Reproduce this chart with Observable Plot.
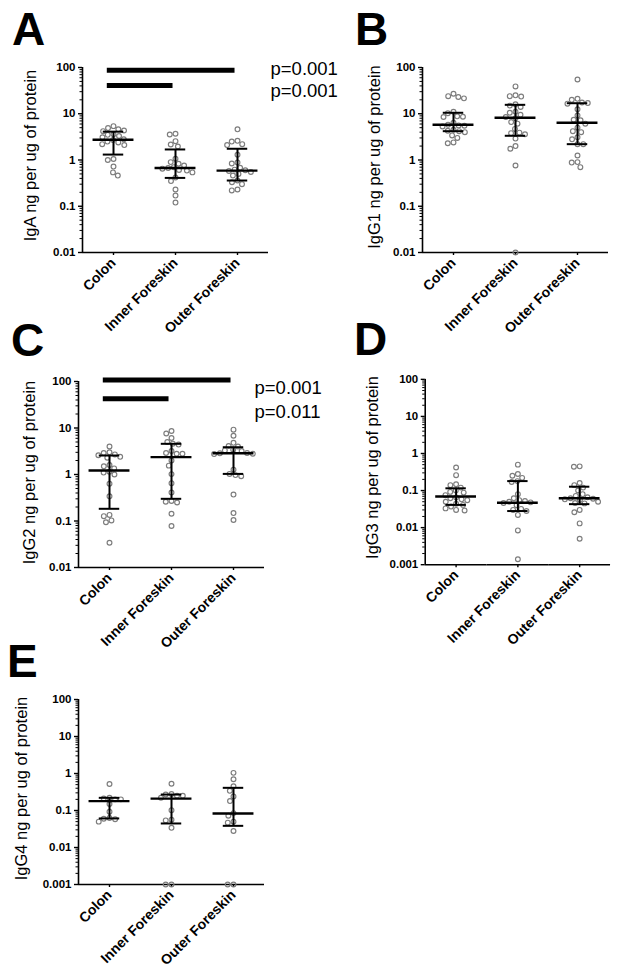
<!DOCTYPE html>
<html>
<head>
<meta charset="utf-8">
<script src="https://cdn.jsdelivr.net/npm/d3@7"></script>
<script src="https://cdn.jsdelivr.net/npm/@observablehq/plot@0.6"></script>
<style>
  html, body { margin: 0; padding: 0; background: white; }
  body { width: 624px; height: 976px; overflow: hidden; position: relative; font-family: "Liberation Sans", Arial, sans-serif; }
  .panel { position: absolute; }
  .letter { position: absolute; font-family: "Liberation Sans", Arial, sans-serif; font-weight: bold; font-size: 46px; line-height: 46px; color: black; }
  g[aria-label="y-axis tick label"], g[aria-label="fx-axis tick label"] { font-weight: bold; }
</style>
</head>
<body>
<script>
// ---------- data ----------
const categories = ["Colon", "Inner Foreskin", "Outer Foreskin"];

const ticks4 = [0.01, 0.1, 1, 10, 100];
const tickLabels4 = ["0.01", "0.1", "1", "10", "100"];
const ticks5 = [0.001, 0.01, 0.1, 1, 10, 100];
const tickLabels5 = ["0.001", "0.01", "0.1", "1", "10", "100"];

// Panel A: IgA
const igaColon = [5.4, 4.9, 4.6, 4.35, 4.2, 3.6, 3.5, 3.3, 3.1, 2.8, 2.7, 2.5, 2.4, 2.2, 2.1, 1.05, 1.0, 0.72, 0.54, 0.46];
const igaInner = [3.7, 3.56, 2.55, 2.16, 1.96, 1.06, 0.9, 0.83, 0.76, 0.7, 0.67, 0.65, 0.61, 0.59, 0.54, 0.42, 0.35, 0.23, 0.17, 0.12];
const igaOuter = [4.6, 2.6, 2.5, 2.2, 2.1, 1.3, 0.88, 0.84, 0.68, 0.62, 0.6, 0.58, 0.55, 0.5, 0.46, 0.36, 0.33, 0.3, 0.23, 0.22];
const igaMedian = [2.75, 0.67, 0.59];
const igaQ1 = [1.31, 0.41, 0.36];
const igaQ3 = [4.1, 1.69, 1.75];
const igaSigLevel = [87, 41];
const igaSigTo = [2, 1];
const igaPValues = ["p=0.001", "p=0.001"];

// Panel B: IgG1
const igg1Colon = [27, 24, 23, 21.5, 11, 10.3, 8.8, 8.6, 8.5, 6.4, 5.8, 5.6, 5.5, 5.3, 4.5, 4.3, 4.2, 4.0, 3.4, 3.0, 2.4, 2.3];
const igg1Inner = [39, 25, 24, 23.5, 16, 15, 14, 11, 10.5, 9.5, 8.5, 8, 6.6, 6.1, 4.7, 3.9, 3.8, 3.6, 2.9, 2.0, 1.75, 0.76, 0.01];
const igg1Outer = [55, 21, 20, 17.5, 17, 16.5, 12.5, 9.2, 7.4, 7.2, 6.1, 5.0, 4.2, 4.0, 3.1, 2.8, 2.2, 2.2, 1.25, 0.9, 0.88, 0.7];
const igg1Median = [5.8, 8.2, 6.4];
const igg1Q1 = [4.2, 3.34, 2.2];
const igg1Q3 = [10.5, 15.6, 16.9];

// Panel C: IgG2
const igg2Colon = [4.0, 3.0, 2.9, 2.7, 2.6, 2.4, 2.3, 1.6, 1.5, 1.35, 1.15, 1.1, 1.0, 0.63, 0.34, 0.135, 0.127, 0.103, 0.094, 0.034];
const igg2Inner = [8.6, 7.6, 6.1, 5.0, 4.6, 4.4, 3.2, 2.9, 2.8, 2.8, 2.0, 1.55, 1.02, 0.65, 0.41, 0.27, 0.26, 0.25, 0.143, 0.078];
const igg2Outer = [9.2, 6.8, 4.8, 4.1, 4.0, 3.4, 3.3, 3.2, 2.9, 2.85, 2.8, 2.75, 1.27, 1.03, 0.97, 0.92, 0.37, 0.148, 0.105];
const igg2Median = [1.22, 2.36, 2.87];
const igg2Q1 = [0.183, 0.3, 1.03];
const igg2Q3 = [2.56, 4.57, 3.86];
const igg2SigLevel = [108, 42.5];
const igg2SigTo = [2, 1];
const igg2PValues = ["p=0.001", "p=0.011"];

// Panel D: IgG3
const igg3Colon = [0.42, 0.26, 0.148, 0.14, 0.12, 0.1, 0.092, 0.088, 0.075, 0.065, 0.062, 0.058, 0.055, 0.05, 0.044, 0.041, 0.037, 0.033, 0.030, 0.029];
const igg3Inner = [0.5, 0.28, 0.25, 0.22, 0.18, 0.17, 0.08, 0.062, 0.055, 0.052, 0.05, 0.048, 0.046, 0.04, 0.032, 0.03, 0.028, 0.022, 0.0084, 0.0014];
const igg3Outer = [0.45, 0.44, 0.16, 0.14, 0.12, 0.1, 0.08, 0.072, 0.066, 0.062, 0.06, 0.058, 0.056, 0.05, 0.046, 0.045, 0.03, 0.026, 0.013, 0.005];
const igg3Median = [0.069, 0.047, 0.062];
const igg3Q1 = [0.041, 0.028, 0.043];
const igg3Q3 = [0.115, 0.18, 0.127];

// Panel E: IgG4
const igg4Colon = [0.52, 0.22, 0.21, 0.2, 0.2, 0.15, 0.092, 0.063, 0.06, 0.058, 0.05];
const igg4Inner = [0.53, 0.28, 0.27, 0.25, 0.25, 0.22, 0.102, 0.056, 0.054, 0.034, 0.001, 0.001];
const igg4Outer = [1.04, 0.7, 0.45, 0.34, 0.24, 0.18, 0.085, 0.072, 0.05, 0.047, 0.028, 0.001, 0.001];
const igg4Median = [0.179, 0.21, 0.083];
const igg4Q1 = [0.061, 0.0446, 0.0385];
const igg4Q3 = [0.22, 0.27, 0.41];

// ---------- drawing ----------
const FONT = "'Liberation Sans', Arial, sans-serif";
const ML = 80, MT = 40, MB = 100, FW = 186;

function minorTicks(domain) {
  const out = [];
  for (let e = Math.round(Math.log10(domain[0])); e < Math.round(Math.log10(domain[1])); e++) {
    for (let m = 2; m <= 9; m++) out.push(m * Math.pow(10, e));
  }
  return out;
}

function panel(cfg) {
  const rows = [];
  cfg.values.forEach((vals, i) => vals.forEach(v => rows.push({cat: categories[i], v})));
  const summary = categories.map((c, i) => ({cat: c, med: cfg.median[i], q1: cfg.q1[i], q3: cfg.q3[i]}));
  const labelMap = new Map(cfg.ticks.map((t, i) => [t, cfg.tickLabels[i]]));
  const domain = [cfg.ticks[0], cfg.ticks[cfg.ticks.length - 1]];
  const first = () => categories[0];
  const last = () => categories[2];

  const marks = [
    // x axis line (contiguous across facets)
    Plot.ruleY([domain[0]], {y: d => d, x1: -1, x2: 1, stroke: "black", strokeWidth: 1.6}),
    // y axis line
    Plot.ruleX([0], {fx: first, x: -1, y1: domain[0], y2: domain[1], stroke: "black", strokeWidth: 1.6}),
    Plot.axisY({ticks: minorTicks(domain), tickSize: 2.5, tickFormat: () => "", strokeWidth: 1, label: null}),
    Plot.axisY({ticks: cfg.ticks, tickSize: 4, tickPadding: 3, tickFormat: d => labelMap.get(d), strokeWidth: 1.4,
                fontSize: 11.5, fontWeight: "bold", label: null}),
    Plot.axisFx({anchor: "bottom", tickRotate: -45, tickSize: 3, tickPadding: 5, strokeWidth: 1.4,
                 fontSize: 14, fontWeight: "bold", label: null}),
    Plot.dot(rows, Plot.dodgeX("middle", {fx: "cat", y: "v", r: 2.4, padding: 2.2,
                 stroke: "#7d7d7d", strokeWidth: 1.15, fill: "none"})),
    Plot.ruleX(summary, {fx: "cat", x: 0, y1: "q1", y2: "q3", stroke: "black", strokeWidth: 2}),
    Plot.ruleY(summary, {fx: "cat", y: "q1", x1: -0.33, x2: 0.33, stroke: "black", strokeWidth: 2}),
    Plot.ruleY(summary, {fx: "cat", y: "q3", x1: -0.33, x2: 0.33, stroke: "black", strokeWidth: 2}),
    Plot.ruleY(summary, {fx: "cat", y: "med", x1: -0.66, x2: 0.66, stroke: "black", strokeWidth: 2.4}),
    Plot.text([cfg.title], {fx: first, frameAnchor: "left", rotate: -90, dx: cfg.titleDx, dy: cfg.titleDy,
                 fontSize: 16.5, textAnchor: "middle", fill: "black"})
  ];

  if (cfg.sigLevel) {
    const sig = cfg.sigLevel.map((y, i) => ({y, to: cfg.sigTo[i]}));
    marks.push(Plot.ruleY(sig, {fx: first, y: "y", x1: -0.2, x2: d => 2 * d.to - 0.08, stroke: "black", strokeWidth: 5}));
    marks.push(Plot.text([cfg.pValues.join("\n")], {fx: last, x: 1, frameAnchor: "top", lineAnchor: "top",
                 textAnchor: "start", dx: cfg.pDx, dy: cfg.pDy, fontSize: 18.5, lineHeight: cfg.pLineHeight, fill: "black"}));
  }

  const width = ML + FW + cfg.mr;
  const height = MT + cfg.fh + MB;
  const svg = Plot.plot({
    width, height,
    marginLeft: ML, marginRight: cfg.mr, marginTop: MT, marginBottom: MB,
    fx: {domain: categories, padding: 0, axis: null, label: null},
    x: {domain: [-1, 1], axis: null},
    y: {type: "log", domain, axis: null},
    style: {fontFamily: FONT, fontSize: "11.5px", color: "black", background: "transparent", overflow: "visible"},
    marks
  });
  const div = document.createElement("div");
  div.className = "panel";
  div.style.left = (cfg.fl - ML) + "px";
  div.style.top = (cfg.ft - MT) + "px";
  div.appendChild(svg);
  document.body.appendChild(div);

  const L = document.createElement("div");
  L.className = "letter";
  L.textContent = cfg.letter;
  L.style.left = cfg.letterX + "px";
  L.style.top = cfg.letterY + "px";
  document.body.appendChild(L);
}

panel({letter: "A", letterX: 12, letterY: 6, fl: 82, ft: 67, fh: 185, mr: 90,
  title: "IgA ng per ug of protein", titleDx: -52, titleDy: -4.5,
  ticks: ticks4, tickLabels: tickLabels4,
  values: [igaColon, igaInner, igaOuter], median: igaMedian, q1: igaQ1, q3: igaQ3,
  sigLevel: igaSigLevel, sigTo: igaSigTo, pValues: igaPValues, pDx: 2, pDy: -8.7, pLineHeight: 1.2});

panel({letter: "B", letterX: 355, letterY: 6, fl: 422, ft: 67, fh: 185, mr: 16,
  title: "IgG1 ng per ug of protein", titleDx: -48, titleDy: -3,
  ticks: ticks4, tickLabels: tickLabels4,
  values: [igg1Colon, igg1Inner, igg1Outer], median: igg1Median, q1: igg1Q1, q3: igg1Q3});

panel({letter: "C", letterX: 11, letterY: 317, fl: 78, ft: 381, fh: 186, mr: 90,
  title: "IgG2 ng per ug of protein", titleDx: -49, titleDy: -2,
  ticks: ticks4, tickLabels: tickLabels4,
  values: [igg2Colon, igg2Inner, igg2Outer], median: igg2Median, q1: igg2Q1, q3: igg2Q3,
  sigLevel: igg2SigLevel, sigTo: igg2SigTo, pValues: igg2PValues, pDx: -10, pDy: -4.3, pLineHeight: 1.3});

panel({letter: "D", letterX: 354, letterY: 316, fl: 425, ft: 379, fh: 186, mr: 14,
  title: "IgG3 ng per ug of protein", titleDx: -52.5, titleDy: -4.5,
  ticks: ticks5, tickLabels: tickLabels5,
  values: [igg3Colon, igg3Inner, igg3Outer], median: igg3Median, q1: igg3Q1, q3: igg3Q3});

panel({letter: "E", letterX: 7, letterY: 638, fl: 78, ft: 699, fh: 185, mr: 20,
  title: "IgG4 ng per ug of protein", titleDx: -56.5, titleDy: -3.5,
  ticks: ticks5, tickLabels: tickLabels5,
  values: [igg4Colon, igg4Inner, igg4Outer], median: igg4Median, q1: igg4Q1, q3: igg4Q3});
</script>
</body>
</html>
